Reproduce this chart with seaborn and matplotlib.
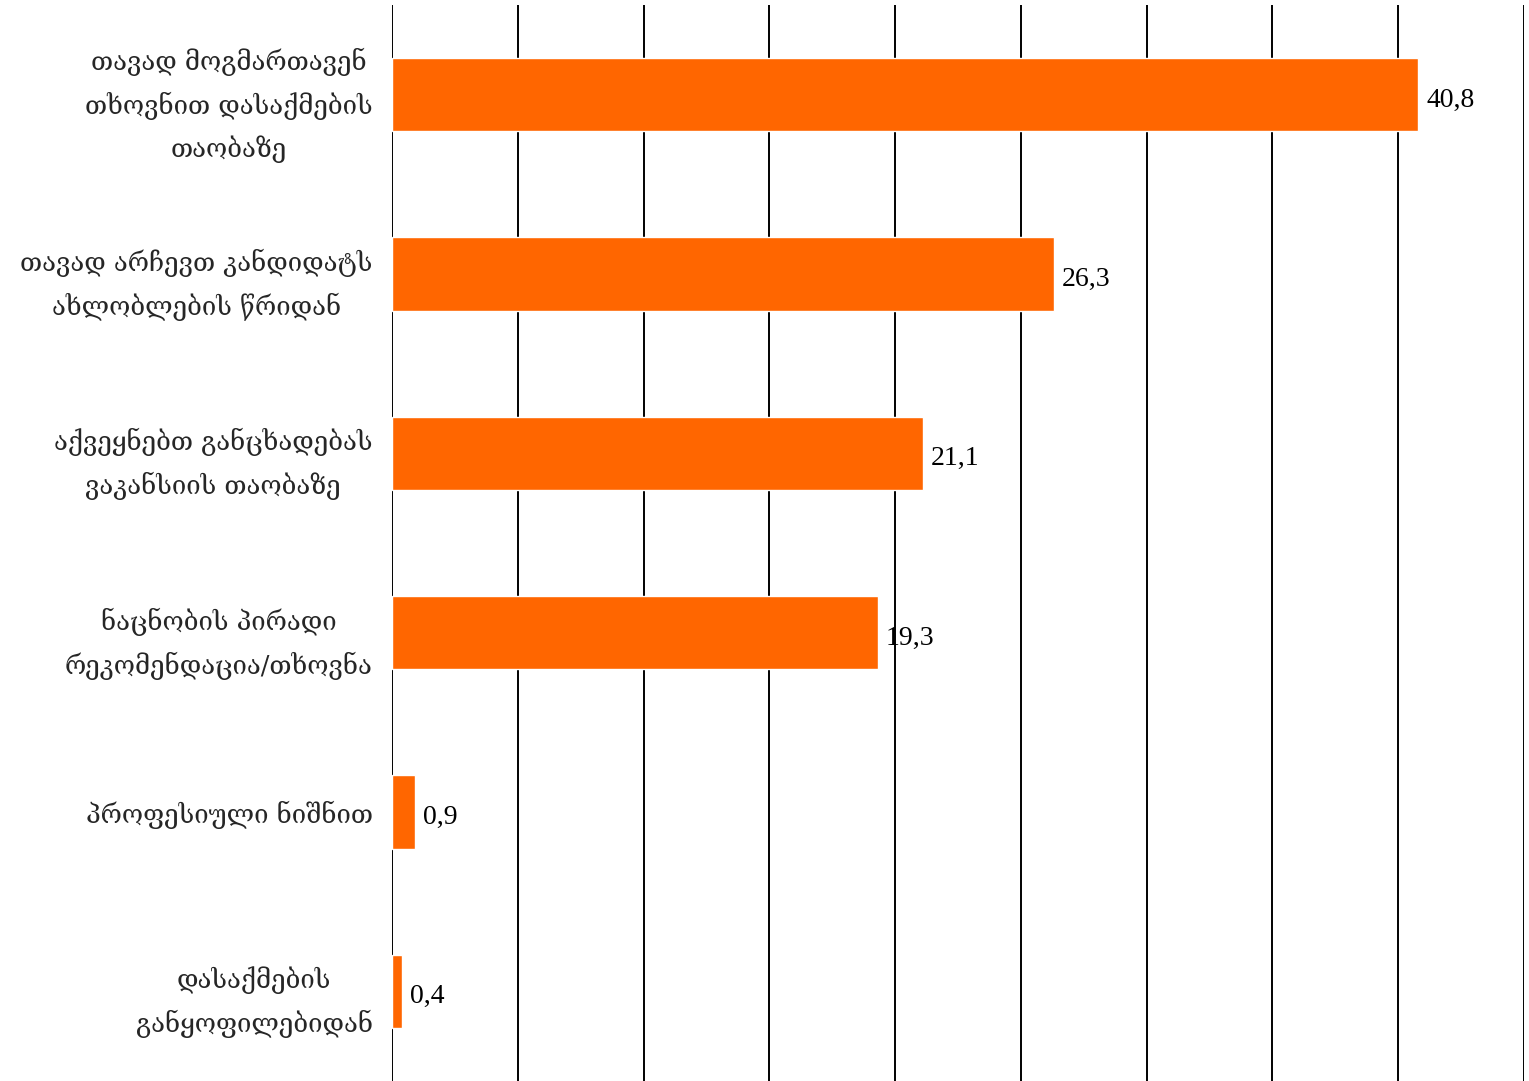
import matplotlib
matplotlib.use("Agg")
import matplotlib.pyplot as plt
import seaborn as sns
import pandas as pd

# ===== data =====
categories = [
    "თავად მოგმართავენ\nთხოვნით დასაქმების\nთაობაზე",
    "თავად არჩევთ კანდიდატს\nახლობლების წრიდან",
    "აქვეყნებთ განცხადებას\nვაკანსიის თაობაზე",
    "ნაცნობის პირადი\nრეკომენდაცია/თხოვნა",
    "პროფესიული ნიშნით",
    "დასაქმების\nგანყოფილებიდან",
]
values = [40.8, 26.3, 21.1, 19.3, 0.9, 0.4]
grid_ticks = [0, 5, 10, 15, 20, 25, 30, 35, 40, 45]

df = pd.DataFrame({"category": categories, "value": values})

sns.set_theme(style="white")
label_fonts = ["DejaVu Serif", "DejaVu Sans"]

fig = plt.figure(figsize=(15.29, 10.81), dpi=100)
ax = fig.add_axes([392 / 1529, 0.0, (1524 - 392) / 1529, 1076 / 1081])

sns.barplot(data=df, x="value", y="category", color="#FF6600", width=0.41,
            saturation=1, ax=ax, zorder=3)

ax.set_xlim(0, 45)
ax.set_ylim(5.5, -0.5)
ax.set_xticks(grid_ticks)
ax.set_xticklabels([])
ax.tick_params(axis="x", length=0)
ax.tick_params(axis="y", length=0, pad=14)
ax.grid(axis="x", color="black", linewidth=1.4, zorder=0)
ax.set_axisbelow(True)
for s in ax.spines.values():
    s.set_visible(False)
ax.set_xlabel("")
ax.set_ylabel("")

for lab in ax.get_yticklabels():
    lab.set_family(label_fonts)
    lab.set_fontsize(18.5)
    lab.set_multialignment("center")
    lab.set_linespacing(1.7)

anns = ax.bar_label(ax.containers[0],
                    labels=[f"{v:.1f}".replace(".", ",") for v in values],
                    padding=6, fontsize=20, family="Liberation Serif", color="black")
for t in anns:
    t.xyann = (6, -4)

fig.savefig("out.png", dpi=100)
